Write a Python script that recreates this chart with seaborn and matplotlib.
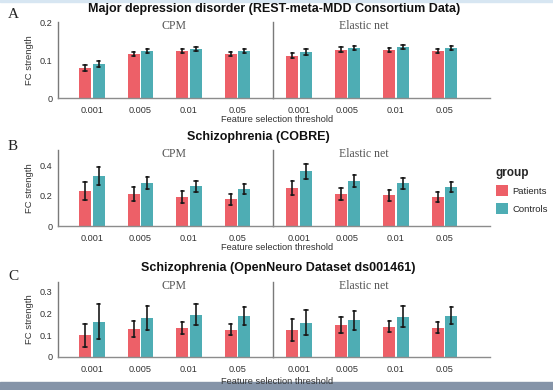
import numpy as np
import pandas as pd
import matplotlib
from matplotlib import pyplot as plt
from matplotlib.patches import Rectangle
import seaborn as sns

sns.set_style("white")
matplotlib.rcParams['font.family'] = ['Liberation Sans', 'DejaVu Sans']

thresholds = ["0.001", "0.005", "0.01", "0.05"]
groups = ["Patients", "Controls"]
methods = ["CPM", "Elastic net"]
palette = {"Patients": "#ED6068", "Controls": "#4EADB4"}

# bar heights (mean FC strength) and error half-widths, per threshold
mdd_cpm_pat = [0.080, 0.116, 0.123, 0.116]
mdd_cpm_pat_err = [0.008, 0.006, 0.005, 0.005]
mdd_cpm_con = [0.089, 0.124, 0.128, 0.124]
mdd_cpm_con_err = [0.008, 0.006, 0.005, 0.005]
mdd_en_pat = [0.111, 0.127, 0.126, 0.123]
mdd_en_pat_err = [0.007, 0.006, 0.005, 0.005]
mdd_en_con = [0.121, 0.132, 0.135, 0.132]
mdd_en_con_err = [0.007, 0.006, 0.005, 0.005]

cobre_cpm_pat = [0.228, 0.211, 0.191, 0.176]
cobre_cpm_pat_err = [0.059, 0.047, 0.040, 0.037]
cobre_cpm_con = [0.329, 0.282, 0.262, 0.243]
cobre_cpm_con_err = [0.056, 0.038, 0.037, 0.033]
cobre_en_pat = [0.252, 0.213, 0.202, 0.189]
cobre_en_pat_err = [0.047, 0.039, 0.037, 0.034]
cobre_en_con = [0.359, 0.295, 0.280, 0.258]
cobre_en_con_err = [0.047, 0.038, 0.034, 0.034]

ds_cpm_pat = [0.100, 0.129, 0.132, 0.125]
ds_cpm_pat_err = [0.054, 0.038, 0.028, 0.025]
ds_cpm_con = [0.162, 0.180, 0.194, 0.190]
ds_cpm_con_err = [0.080, 0.054, 0.048, 0.041]
ds_en_pat = [0.125, 0.149, 0.140, 0.134]
ds_en_pat_err = [0.052, 0.037, 0.027, 0.025]
ds_en_con = [0.157, 0.168, 0.186, 0.190]
ds_en_con_err = [0.058, 0.045, 0.048, 0.040]

titles = ["Major depression disorder (REST-meta-MDD Consortium Data)",
          "Schizophrenia (COBRE)",
          "Schizophrenia (OpenNeuro Dataset ds001461)"]
letters = ["A", "B", "C"]
ymax = [0.2, 0.5, 0.345]
yticks = [[0, 0.1, 0.2], [0, 0.2, 0.4], [0, 0.1, 0.2, 0.3]]
yticklabels = [["0", "0.1", "0.2"], ["0", "0.2", "0.4"], ["0", "0.1", "0.2", "0.3"]]

data = [
    [(mdd_cpm_pat, mdd_cpm_pat_err, mdd_cpm_con, mdd_cpm_con_err),
     (mdd_en_pat, mdd_en_pat_err, mdd_en_con, mdd_en_con_err)],
    [(cobre_cpm_pat, cobre_cpm_pat_err, cobre_cpm_con, cobre_cpm_con_err),
     (cobre_en_pat, cobre_en_pat_err, cobre_en_con, cobre_en_con_err)],
    [(ds_cpm_pat, ds_cpm_pat_err, ds_cpm_con, ds_cpm_con_err),
     (ds_en_pat, ds_en_pat_err, ds_en_con, ds_en_con_err)],
]


def long_frame(pat, pat_err, con, con_err):
    # two rows per bar (mean - err, mean + err): mean gives the bar, min/max the error bar
    rows = []
    for t, m, e in zip(thresholds, pat, pat_err):
        rows += [(t, "Patients", m - e), (t, "Patients", m + e)]
    for t, m, e in zip(thresholds, con, con_err):
        rows += [(t, "Controls", m - e), (t, "Controls", m + e)]
    return pd.DataFrame(rows, columns=["threshold", "group", "value"])


W, H = 553, 390
fig = plt.figure(figsize=(W / 100, H / 100), dpi=100)

# layout in pixels
row_top = [22, 150, 282]
row_bot = [98, 226, 357]
col_x = [(58, 273), (273, 490)]
col_xlim = [(-0.70, 3.73), (-0.54, 3.94)]
title_xy = [(274, 9), (258, 137), (278, 268)]
letter_y = [14, 147, 277]
xlabel_y = [120, 248, 381]

handles = labels = None
for r in range(3):
    for c in range(2):
        x0, x1 = col_x[c]
        ax = fig.add_axes([x0 / W, 1 - row_bot[r] / H, (x1 - x0) / W,
                           (row_bot[r] - row_top[r]) / H])
        df = long_frame(*data[r][c])
        sns.barplot(data=df, x="threshold", y="value", hue="group",
                    order=thresholds, hue_order=groups, palette=palette,
                    saturation=1, estimator="mean",
                    errorbar=lambda v: (v.min(), v.max()),
                    width=0.56, gap=0.1, capsize=0.14, linewidth=0,
                    err_kws={'color': '#1a1a1a', 'linewidth': 1.2},
                    ax=ax)
        if handles is None:
            handles, labels = ax.get_legend_handles_labels()
        ax.get_legend().remove()
        ax.set_xlim(col_xlim[c])
        ax.set_ylim(0, ymax[r])
        ax.set_xlabel("")
        ax.set_ylabel("")
        ax.spines['top'].set_visible(False)
        ax.spines['right'].set_visible(False)
        ax.spines['bottom'].set_color('#8c8c8c')
        ax.spines['left'].set_color('#7a7a7a')
        ax.spines['bottom'].set_linewidth(1.0)
        ax.spines['left'].set_linewidth(1.0)
        ax.tick_params(axis='x', direction='in', length=2.5, color='#c8c8c8',
                       labelsize=6.6, labelcolor='#333333', pad=6)
        if c == 0:
            ax.set_yticks(yticks[r])
            ax.set_yticklabels(yticklabels[r])
            ax.tick_params(axis='y', direction='in', length=3, color='#7a7a7a',
                           labelsize=6.6, labelcolor='#333333', pad=4)
            ax.set_ylabel("FC strength", fontsize=6.8, color='#333333', labelpad=4)
        else:
            ax.set_yticks([])
        ax.text(0.54 if c == 0 else 0.42, 0.95, methods[c], transform=ax.transAxes,
                ha='center', va='center', fontsize=8.5, color='#555555',
                family='Liberation Serif')

    fig.text(title_xy[r][0] / W, 1 - title_xy[r][1] / H, titles[r],
             ha='center', va='center', fontsize=9, fontweight='bold', color='#111111')
    fig.text(8 / W, 1 - letter_y[r] / H, letters[r], ha='left', va='center',
             fontsize=11, family='Liberation Serif', color='#222222')
    fig.text(277 / W, 1 - xlabel_y[r] / H, "Feature selection threshold",
             ha='center', va='center', fontsize=6.7, color='#333333')

leg = fig.legend(handles, labels, title="group", loc='upper left',
                 bbox_to_anchor=(492 / W, 1 - 163 / H), frameon=False,
                 fontsize=6.8, title_fontsize=8.5, handlelength=1.25, handleheight=1.4,
                 labelspacing=0.7, handletextpad=0.5, borderaxespad=0,
                 alignment='left')
leg.get_title().set_fontweight('bold')

# screenshot frame: thin light line on top and grey-blue strip at the bottom
fig.patches.append(Rectangle((0, 0), 1, 8 / H, transform=fig.transFigure,
                             color='#8594a8', zorder=0))
fig.patches.append(Rectangle((0, 1 - 1.5 / H), 1, 1.5 / H, transform=fig.transFigure,
                             color='#d7e6f2', zorder=0))

plt.savefig('out.png', dpi=100)
